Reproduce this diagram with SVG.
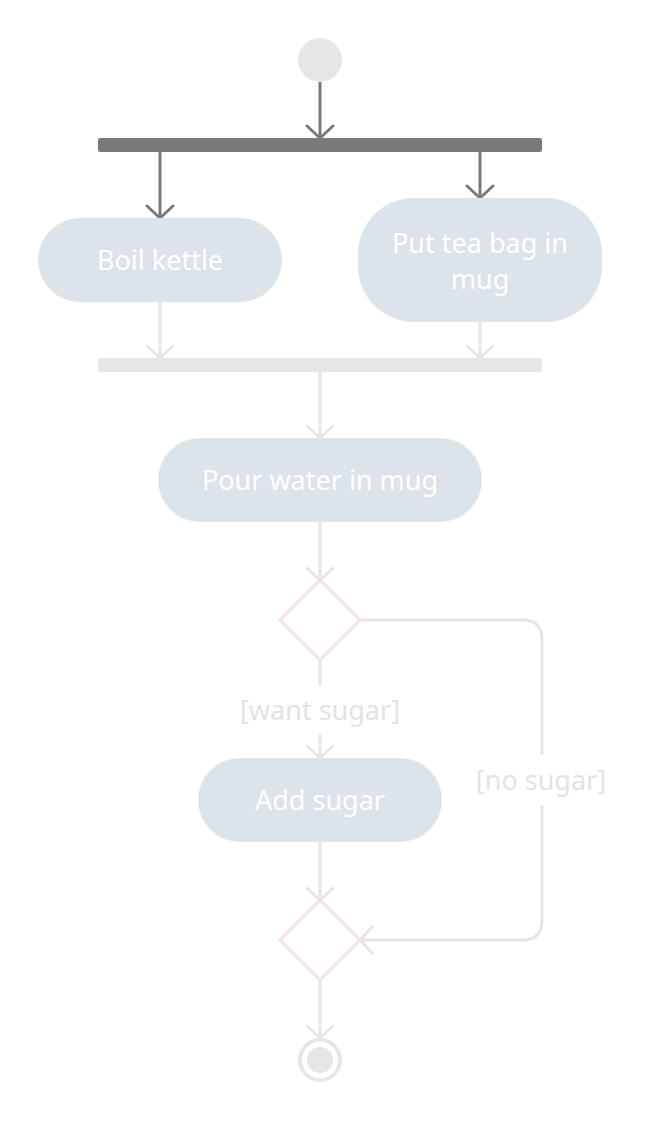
<svg xmlns="http://www.w3.org/2000/svg" width="648" height="1121" viewBox="0 0 648 1121">
<style>
.node{fill:#dce3e9;}
.lbl{font-family:"Noto Sans","Open Sans",sans-serif;font-size:27px;fill:#ffffff;text-anchor:middle;}
.guard{font-family:"Noto Sans","Open Sans",sans-serif;font-size:27px;fill:#e3e3e3;text-anchor:middle;}
.dark{fill:none;stroke:#7a7a7a;stroke-width:3;marker-end:url(#arrD);}
.light{fill:none;stroke:#e6e6e6;stroke-width:3;}
.la{marker-end:url(#arrL);}
.dec{fill:#ffffff;stroke:#f5e2e4;stroke-width:3;}
</style>
<defs>
<marker id="arrD" markerUnits="userSpaceOnUse" viewBox="-16 -16 19 32" refX="0" refY="0" markerWidth="19" markerHeight="32" orient="auto">
<path d="M-12,-13 L0,0 L-12,13" fill="none" stroke="#7a7a7a" stroke-width="3" stroke-linecap="round" stroke-linejoin="round"/>
</marker>
<marker id="arrL" markerUnits="userSpaceOnUse" viewBox="-16 -16 19 32" refX="0" refY="0" markerWidth="19" markerHeight="32" orient="auto">
<path d="M-12,-13 L0,0 L-12,13" fill="none" stroke="#e6e6e6" stroke-width="3" stroke-linecap="round" stroke-linejoin="round"/>
</marker>
</defs>
<rect width="648" height="1121" fill="#ffffff"/>
<g id="connectors">
<path class="dark" d="M320,82 V138"/>
<path class="dark" d="M160,152 V218"/>
<path class="dark" d="M480,152 V198"/>
<path class="light la" d="M160,302 V358"/>
<path class="light la" d="M480,322 V358"/>
<path class="light la" d="M320,372 V438"/>
<path class="light la" d="M320,522 V580"/>
<path class="light" d="M320,660 V686"/>
<path class="light la" d="M320,734 V758"/>
<path class="light" d="M360,620 H522 Q542,620 542,640 V755"/>
<path class="light la" d="M542,805 V920 Q542,940 522,940 H360"/>
<path class="light la" d="M320,842 V900"/>
<path class="light la" d="M320,980 V1038"/>
<text class="guard" x="320" y="720">[want sugar]</text>
<text class="guard" x="541" y="790">[no sugar]</text>
</g>
<g id="start">
<circle cx="320" cy="60" r="22" fill="#e6e6e6"/>
</g>
<g id="fork">
<rect x="98" y="138" width="444" height="14" rx="2" fill="#7b7a78"/>
</g>
<g id="boil">
<rect class="node" x="38" y="218" width="244" height="84" rx="42"/>
<text class="lbl" x="160" y="270">Boil kettle</text>
</g>
<g id="teabag">
<rect class="node" x="358" y="198" width="244" height="124" rx="56"/>
<text class="lbl" x="480" y="253">Put tea bag in</text>
<text class="lbl" x="480" y="289">mug</text>
</g>
<g id="join">
<rect x="98" y="358" width="444" height="14" rx="2" fill="#e6e6e6"/>
</g>
<g id="pour">
<rect class="node" x="158" y="438" width="324" height="84" rx="42"/>
<text class="lbl" x="320" y="490">Pour water in mug</text>
</g>
<g id="decision">
<path class="dec" d="M320,580 L360,620 L320,660 L280,620 Z"/>
</g>
<g id="sugar">
<rect class="node" x="198" y="758" width="244" height="84" rx="42"/>
<text class="lbl" x="320" y="810">Add sugar</text>
</g>
<g id="merge">
<path class="dec" d="M320,900 L360,940 L320,980 L280,940 Z"/>
</g>
<g id="end">
<circle cx="320" cy="1060" r="20" fill="none" stroke="#e6e6e6" stroke-width="4"/>
<circle cx="320" cy="1060" r="13" fill="#e6e6e6"/>
</g>
</svg>
